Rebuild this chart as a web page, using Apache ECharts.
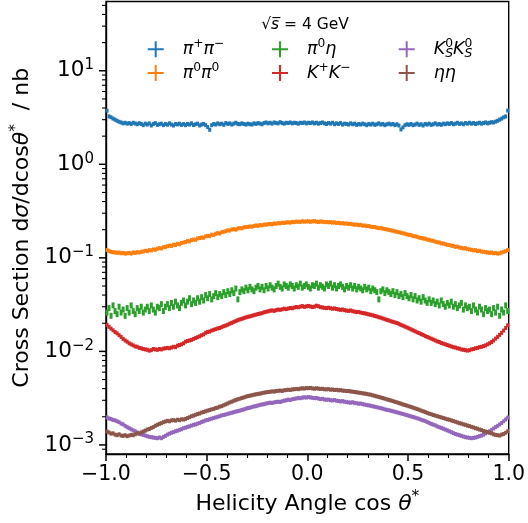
<!DOCTYPE html>
<html><head><meta charset="utf-8">
<script src="https://cdn.jsdelivr.net/npm/echarts@6/dist/echarts.min.js"></script>
<style>html,body{margin:0;padding:0;background:#fff}#c{width:528px;height:523px}</style>
</head><body><div id="c"></div>
<script>
// Histogram binning of cos(theta*)
const nBins = 200;
const binLow = -1.0;
const binHigh = 1.0;

// Series values (nb), one per bin
const piPlusPiMinus = [
3.75,3.25,3.18,3.08,3.0,2.92,2.85,2.8,2.74,2.78,
2.72,2.76,2.7,2.78,2.73,2.68,2.75,2.7,2.62,2.72,
2.66,2.74,2.6,2.7,2.76,2.64,2.68,2.72,2.62,2.7,
2.65,2.74,2.66,2.6,2.7,2.67,2.72,2.64,2.69,2.62,
2.7,2.66,2.74,2.63,2.68,2.72,2.6,2.66,2.7,2.62,
2.5,2.34,2.62,2.7,2.66,2.74,2.68,2.72,2.64,2.76,
2.7,2.74,2.66,2.72,2.78,2.7,2.68,2.74,2.7,2.66,
2.72,2.68,2.66,2.74,2.7,2.76,2.72,2.68,2.76,2.8,
2.74,2.78,2.72,2.8,2.76,2.74,2.82,2.76,2.72,2.78,
2.76,2.8,2.74,2.78,2.76,2.72,2.78,2.76,2.8,2.74,
2.78,2.76,2.8,2.74,2.78,2.72,2.76,2.8,2.74,2.7,
2.76,2.72,2.78,2.68,2.74,2.7,2.76,2.66,2.72,2.7,
2.66,2.74,2.68,2.72,2.64,2.7,2.66,2.72,2.68,2.62,
2.7,2.66,2.72,2.64,2.68,2.74,2.66,2.7,2.62,2.68,
2.72,2.66,2.7,2.62,2.68,2.6,2.36,2.48,2.62,2.68,
2.64,2.7,2.62,2.66,2.72,2.64,2.68,2.6,2.7,2.66,
2.72,2.64,2.68,2.74,2.66,2.7,2.64,2.72,2.68,2.74,
2.7,2.76,2.68,2.72,2.78,2.7,2.74,2.68,2.76,2.72,
2.78,2.72,2.76,2.7,2.74,2.78,2.72,2.76,2.8,2.74,
2.78,2.82,2.8,2.86,2.92,3.0,3.08,3.18,3.25,3.75];

const pi0Pi0 = [
0.121,0.118,0.116,0.115,0.114,0.113,0.114,0.112,0.113,0.111,
0.112,0.113,0.111,0.114,0.113,0.115,0.114,0.116,0.117,0.119,
0.118,0.121,0.12,0.123,0.122,0.125,0.127,0.126,0.13,0.131,
0.133,0.135,0.134,0.138,0.137,0.141,0.14,0.144,0.146,0.148,
0.151,0.15,0.155,0.157,0.156,0.161,0.163,0.165,0.164,0.17,
0.172,0.171,0.177,0.175,0.181,0.184,0.182,0.188,0.19,0.193,
0.197,0.196,0.201,0.203,0.2,0.206,0.208,0.207,0.212,0.213,
0.214,0.217,0.215,0.219,0.222,0.22,0.224,0.223,0.227,0.226,
0.229,0.231,0.228,0.233,0.232,0.235,0.234,0.237,0.236,0.239,
0.24,0.238,0.242,0.241,0.244,0.243,0.242,0.246,0.244,0.245,
0.246,0.243,0.245,0.247,0.244,0.242,0.245,0.243,0.241,0.242,
0.24,0.241,0.238,0.239,0.236,0.237,0.234,0.235,0.232,0.233,
0.23,0.231,0.228,0.226,0.227,0.224,0.225,0.221,0.222,0.218,
0.219,0.215,0.213,0.214,0.21,0.208,0.209,0.205,0.203,0.201,
0.199,0.197,0.195,0.192,0.19,0.188,0.185,0.183,0.181,0.178,
0.176,0.175,0.171,0.17,0.168,0.165,0.163,0.161,0.16,0.157,
0.156,0.153,0.152,0.149,0.147,0.146,0.143,0.142,0.14,0.138,
0.137,0.135,0.134,0.131,0.132,0.129,0.128,0.126,0.127,0.124,
0.123,0.122,0.12,0.121,0.118,0.119,0.117,0.116,0.115,0.114,
0.113,0.114,0.112,0.113,0.111,0.112,0.114,0.116,0.118,0.121];

const pi0Eta = [
0.026,0.029,0.024,0.031,0.027,0.025,0.03,0.026,0.028,0.024,
0.029,0.026,0.031,0.027,0.025,0.029,0.027,0.03,0.026,0.028,
0.03,0.027,0.031,0.028,0.026,0.03,0.029,0.032,0.027,0.03,
0.032,0.029,0.033,0.03,0.034,0.031,0.029,0.033,0.035,0.031,
0.034,0.037,0.032,0.035,0.033,0.037,0.034,0.038,0.035,0.04,
0.037,0.041,0.036,0.039,0.042,0.038,0.041,0.039,0.043,0.04,
0.044,0.041,0.045,0.042,0.047,0.036,0.043,0.046,0.044,0.048,
0.045,0.049,0.046,0.044,0.048,0.05,0.046,0.049,0.045,0.05,
0.047,0.051,0.048,0.046,0.05,0.053,0.049,0.047,0.052,0.05,
0.048,0.052,0.05,0.047,0.051,0.049,0.053,0.048,0.05,0.052,
0.049,0.047,0.051,0.05,0.053,0.048,0.051,0.049,0.047,0.052,
0.05,0.053,0.048,0.051,0.047,0.05,0.052,0.049,0.046,0.05,
0.048,0.051,0.047,0.05,0.046,0.049,0.047,0.045,0.049,0.046,
0.048,0.044,0.047,0.045,0.043,0.036,0.044,0.046,0.042,0.045,
0.043,0.041,0.044,0.04,0.043,0.039,0.041,0.038,0.042,0.039,
0.037,0.04,0.036,0.039,0.035,0.037,0.034,0.038,0.035,0.033,
0.036,0.033,0.035,0.032,0.034,0.031,0.035,0.032,0.03,0.033,
0.031,0.034,0.03,0.032,0.029,0.031,0.033,0.028,0.031,0.029,
0.03,0.027,0.031,0.028,0.026,0.03,0.028,0.025,0.029,0.027,
0.028,0.025,0.029,0.026,0.03,0.024,0.028,0.026,0.031,0.027];

const kPlusKMinus = [
0.0192,0.0183,0.0175,0.0168,0.0161,0.0156,0.0149,0.0143,0.0136,0.0131,
0.0127,0.0122,0.0119,0.0116,0.0113,0.0112,0.0109,0.0108,0.0106,0.0105,
0.0104,0.0102,0.0103,0.0106,0.0105,0.0104,0.0106,0.0105,0.0107,0.0108,
0.0109,0.0108,0.011,0.0112,0.0111,0.0115,0.0117,0.0119,0.0122,0.0127,
0.0129,0.0131,0.0133,0.0136,0.0139,0.0142,0.0145,0.0149,0.0152,0.0158,
0.0161,0.0163,0.0167,0.017,0.0173,0.0176,0.0178,0.0182,0.0186,0.0189,
0.0193,0.0198,0.0202,0.0207,0.0211,0.0216,0.022,0.0223,0.0227,0.0231,
0.0234,0.0237,0.024,0.0244,0.0247,0.0251,0.0254,0.0256,0.0262,0.0265,
0.0268,0.0272,0.0274,0.0271,0.0276,0.028,0.0278,0.0282,0.0286,0.0283,
0.0287,0.0291,0.0289,0.0294,0.0298,0.0296,0.0301,0.0305,0.0299,0.0303,
0.0306,0.0302,0.0298,0.0301,0.0308,0.0304,0.0297,0.0295,0.0292,0.029,
0.0293,0.0289,0.0286,0.0288,0.0284,0.0281,0.0278,0.028,0.0276,0.0273,
0.0271,0.0274,0.0269,0.0266,0.0263,0.0264,0.026,0.0257,0.0255,0.0252,
0.0249,0.0246,0.0243,0.0239,0.0236,0.0232,0.0229,0.0225,0.0221,0.0217,
0.0214,0.021,0.0207,0.0204,0.0201,0.0197,0.0192,0.0188,0.0184,0.018,
0.0176,0.0172,0.0168,0.0164,0.016,0.0157,0.0153,0.015,0.0146,0.0143,
0.014,0.0137,0.0134,0.0131,0.0128,0.0126,0.0123,0.0121,0.0119,0.0117,
0.0115,0.0113,0.0111,0.011,0.0108,0.0107,0.0105,0.0104,0.0103,0.0102,
0.0103,0.0105,0.0106,0.0108,0.0109,0.0111,0.0112,0.0114,0.0116,0.0119,
0.0122,0.0126,0.0131,0.0137,0.0143,0.015,0.0158,0.0167,0.0178,0.019];

const ksKs = [
0.00197,0.00192,0.00189,0.00185,0.00183,0.00179,0.00175,0.00169,0.00166,0.0016,
0.00155,0.00151,0.00147,0.00143,0.0014,0.00136,0.00133,0.0013,0.00128,0.00126,
0.00124,0.00122,0.00121,0.0012,0.00119,0.00118,0.0012,0.00118,0.00122,0.00125,
0.00129,0.00132,0.00135,0.00137,0.0014,0.00142,0.00145,0.00147,0.00151,0.00153,
0.00156,0.00158,0.00161,0.00164,0.00166,0.00169,0.00172,0.00176,0.00179,0.00183,
0.00185,0.00188,0.00191,0.00194,0.00197,0.002,0.00203,0.00207,0.00209,0.00212,
0.00215,0.00218,0.00221,0.00224,0.00227,0.0023,0.00233,0.00237,0.0024,0.00244,
0.00248,0.0025,0.00254,0.00258,0.0026,0.00264,0.00268,0.00271,0.00273,0.00277,
0.0028,0.00283,0.00281,0.00285,0.00288,0.0029,0.00288,0.00293,0.00297,0.003,
0.00305,0.00302,0.00308,0.00311,0.00314,0.00318,0.00316,0.0032,0.00323,0.00321,
0.00325,0.00322,0.00319,0.00316,0.00318,0.00313,0.00309,0.00311,0.00306,0.00304,
0.00305,0.00301,0.00299,0.00302,0.00297,0.00295,0.00292,0.00294,0.0029,0.00287,
0.00285,0.00283,0.00286,0.00281,0.00279,0.00276,0.00277,0.00273,0.0027,0.00267,
0.00265,0.00262,0.00259,0.00256,0.00253,0.0025,0.00247,0.00244,0.0024,0.00237,
0.00235,0.00232,0.00229,0.00226,0.00223,0.0022,0.00217,0.00214,0.00211,0.00208,
0.00205,0.00202,0.00199,0.00196,0.00193,0.0019,0.00186,0.00183,0.0018,0.00176,
0.00172,0.00168,0.00165,0.00162,0.00158,0.00155,0.00152,0.00149,0.00146,0.00143,
0.0014,0.00137,0.00134,0.00131,0.00129,0.00127,0.00125,0.00123,0.00121,0.0012,
0.00119,0.00118,0.00119,0.0012,0.00122,0.00124,0.00126,0.00129,0.00133,0.00137,
0.0014,0.00145,0.0015,0.00155,0.0016,0.00166,0.00172,0.00179,0.00187,0.00196];

const etaEta = [
0.00139,0.00136,0.00132,0.00133,0.00129,0.00127,0.0013,0.00126,0.00125,0.00127,
0.00124,0.00126,0.00128,0.00127,0.0013,0.00133,0.00132,0.00136,0.00139,0.00142,
0.00146,0.00148,0.00152,0.00155,0.0016,0.00164,0.00168,0.00171,0.00175,0.00178,
0.00181,0.00179,0.00183,0.00184,0.00182,0.00186,0.00184,0.00188,0.00187,0.0019,
0.00194,0.00198,0.00203,0.00206,0.0021,0.00214,0.00217,0.00222,0.00225,0.00229,
0.00233,0.00236,0.0024,0.00243,0.00248,0.00251,0.00257,0.0026,0.00266,0.00272,
0.00278,0.00285,0.0029,0.00297,0.00302,0.00308,0.00312,0.00318,0.00322,0.00328,
0.00333,0.00336,0.0034,0.00344,0.00348,0.00351,0.00354,0.00358,0.00362,0.00365,
0.00368,0.0037,0.00374,0.00372,0.00377,0.00379,0.00381,0.00378,0.00384,0.00386,
0.00389,0.00387,0.00392,0.00394,0.00397,0.00395,0.004,0.00403,0.00401,0.00405,
0.00404,0.00407,0.00402,0.00399,0.00403,0.004,0.00397,0.00398,0.00394,0.00393,
0.00395,0.0039,0.00391,0.00387,0.00388,0.00384,0.00385,0.00381,0.00379,0.00376,
0.00377,0.00373,0.00371,0.00368,0.00365,0.00362,0.0036,0.00356,0.00354,0.00351,
0.00347,0.00344,0.00339,0.00335,0.0033,0.00326,0.00321,0.00317,0.00312,0.00307,
0.00303,0.00299,0.00294,0.00289,0.00285,0.0028,0.00276,0.00271,0.00267,0.00263,
0.00259,0.00255,0.0025,0.00246,0.00242,0.00238,0.00233,0.00229,0.00225,0.0022,
0.00216,0.00213,0.00209,0.00206,0.00203,0.002,0.00197,0.00194,0.00191,0.00188,
0.00186,0.00183,0.0018,0.00177,0.00174,0.00171,0.00169,0.00166,0.00164,0.00161,
0.00159,0.00156,0.00154,0.00151,0.00149,0.00146,0.00144,0.00141,0.00139,0.00137,
0.00135,0.00133,0.0013,0.00128,0.00127,0.00126,0.00129,0.00131,0.00135,0.0014];

// Axis ranges and ticks
const xMin = -1.0, xMax = 1.0, xInterval = 0.5;
const yMin = 8e-4, yMax = 55;
const yMajorTicks = [1e-3, 1e-2, 1e-1, 1, 10];
const yMinorTicks = [9e-4,
  2e-3,3e-3,4e-3,5e-3,6e-3,7e-3,8e-3,9e-3,
  2e-2,3e-2,4e-2,5e-2,6e-2,7e-2,8e-2,9e-2,
  0.2,0.3,0.4,0.5,0.6,0.7,0.8,0.9,
  2,3,4,5,6,7,8,9,
  20,30,40,50];

const seriesKeys = ['pipi', 'pi0pi0', 'pi0eta', 'kk', 'ksks', 'etaeta'];
const seriesValues = [piPlusPiMinus, pi0Pi0, pi0Eta, kPlusKMinus, ksKs, etaEta];
const seriesColors = ['#1f77b4', '#ff7f0e', '#2ca02c', '#d62728', '#9467bd', '#8c564b'];
const seriesMarkerHeight = [4, 4, 6, 4, 4, 4];
const seriesLabels = {
  pipi: '{sp|}{i|π}{sup|+}{i|π}{sup|−}',
  pi0pi0: '{sp|}{i|π}{sup|0}{i|π}{sup|0}',
  pi0eta: '{sp|}{i|π}{sup|0}{i|η}',
  kk: '{sp|}{i|K}{sup|+}{i|K}{sup|−}',
  ksks: '{sp|}{i|K}{sup0|0}{sub|S}{i|K}{sup0|0}{sub|S}',
  etaeta: '{sp|}{i|η}{i|η}'
};

const FONT = 'DejaVu Sans';
const TICK_FS = 21.5, TITLE_FS = 22, LEG_FS = 17.5;

function richSet(fs) {
  const s = Math.round(fs * 0.7 * 10) / 10;
  const lh = Math.round(fs * 1.25);
  return {
    n: {fontFamily: FONT, fontSize: fs, color: '#000', lineHeight: lh},
    i: {fontFamily: FONT, fontSize: fs, fontStyle: 'italic', color: '#000', lineHeight: lh},
    sup: {fontFamily: FONT, fontSize: s, color: '#000', lineHeight: Math.round(lh * 0.55), verticalAlign: 'top'},
    sup0: {fontFamily: FONT, fontSize: s, color: '#000', lineHeight: Math.round(lh * 0.55), verticalAlign: 'top', width: 0},
    sub: {fontFamily: FONT, fontSize: s, fontStyle: 'italic', color: '#000', lineHeight: Math.round(lh * 0.55), verticalAlign: 'bottom'},
    sp: {width: 14, lineHeight: lh}
  };
}

const binWidth = (binHigh - binLow) / nBins;
const binCenters = Array.from({length: nBins}, (_, i) => binLow + (i + 0.5) * binWidth);

const chart = echarts.init(document.getElementById('c'), null, {renderer: 'canvas'});

const plusIcon = 'path://M7,0L9,0L9,7L16,7L16,9L9,9L9,16L7,16L7,9L0,9L0,7L7,7Z';
const legRich = richSet(LEG_FS);

function legendFor(names, left) {
  return {
    orient: 'vertical', left: left, top: 38.3, padding: 0,
    itemWidth: 16, itemHeight: 16, itemGap: 3.7,
    selectedMode: false, icon: plusIcon,
    data: names,
    formatter: (name) => seriesLabels[name],
    textStyle: {fontFamily: FONT, fontSize: LEG_FS, color: '#000', rich: legRich}
  };
}

function expLabel(v) {
  const e = Math.round(Math.log10(v));
  if (Math.abs(Math.log10(v) - e) > 1e-6) return '';
  const s = (e < 0 ? '−' : '') + Math.abs(e);
  return '{b|10}{s|' + s + '}';
}

const tickData = yMajorTicks.map(v => [xMin, v, 1]).concat(yMinorTicks.map(v => [xMin, v, 0]));

const series = seriesKeys.map((k, idx) => ({
  name: k, type: 'scatter', symbol: 'rect', symbolSize: [3, seriesMarkerHeight[idx]],
  itemStyle: {color: seriesColors[idx], opacity: 1},
  data: seriesValues[idx].map((v, i) => [binCenters[i], v]),
  silent: true, animation: false, z: 2 + idx
}));

series.push({
  type: 'custom', coordinateSystem: 'cartesian2d', silent: true, clip: false, animation: false, z: 20,
  data: tickData,
  encode: {x: 0, y: 1},
  renderItem: (params, api) => {
    const p = api.coord([api.value(0), api.value(1)]);
    const major = api.value(2) === 1;
    const len = major ? 7 : 4;
    return {type: 'line', shape: {x1: p[0] - len, y1: p[1], x2: p[0], y2: p[1]},
            style: {stroke: '#000', lineWidth: major ? 1.5 : 1.1}};
  }
});

chart.setOption({
  animation: false,
  backgroundColor: '#fff',
  grid: {left: 103, right: 18, top: 1.5, bottom: 69, show: true, borderColor: '#000', borderWidth: 1.4, backgroundColor: 'transparent'},
  xAxis: {
    type: 'value', min: xMin, max: xMax, interval: xInterval,
    name: '{n|Helicity Angle cos }{i|θ}{sup|*}', nameLocation: 'middle', nameGap: 33,
    nameTextStyle: {rich: richSet(TITLE_FS)},
    axisLine: {show: true, onZero: false, lineStyle: {color: '#000', width: 1.4}},
    axisTick: {show: true, length: 7, lineStyle: {color: '#000', width: 1.5}},
    minorTick: {show: true, splitNumber: 5, length: 4, lineStyle: {color: '#000', width: 1.1}},
    splitLine: {show: false}, minorSplitLine: {show: false},
    axisLabel: {margin: 10, fontFamily: FONT, fontSize: 20.5, color: '#000',
      formatter: v => (v < 0 ? '−' : '') + Math.abs(v).toFixed(1)}
  },
  yAxis: {
    type: 'log', logBase: 10, min: yMin, max: yMax,
    name: '{n|Cross Section d}{i|σ}{n|/dcos}{i|θ}{sup|*}{n|  / nb}', nameLocation: 'middle', nameGap: 70,
    nameTextStyle: {rich: richSet(TITLE_FS)},
    axisLine: {show: true, onZero: false, lineStyle: {color: '#000', width: 1.4}},
    axisTick: {show: false},
    splitLine: {show: false},
    axisLabel: {margin: 12, showMinLabel: false, showMaxLabel: false, formatter: expLabel,
      rich: {
        b: {fontFamily: FONT, fontSize: TICK_FS, color: '#000', lineHeight: 26},
        s: {fontFamily: FONT, fontSize: 15, color: '#000', lineHeight: 15, verticalAlign: 'top'}
      }}
  },
  legend: [
    legendFor(['pipi', 'pi0pi0'], 147.7),
    legendFor(['pi0eta', 'kk'], 272),
    legendFor(['ksks', 'etaeta'], 398.7)
  ],
  graphic: [{
    type: 'text', x: 305, y: 25, z: 50,
    style: {text: '√{i|s̅} = 4 GeV', align: 'center', verticalAlign: 'middle',
      fontFamily: FONT, fontSize: 15.5, fill: '#000',
      rich: {i: {fontFamily: FONT, fontSize: 15.5, fontStyle: 'italic', fill: '#000'}}}
  }],
  series: series
});
</script>
</body></html>
